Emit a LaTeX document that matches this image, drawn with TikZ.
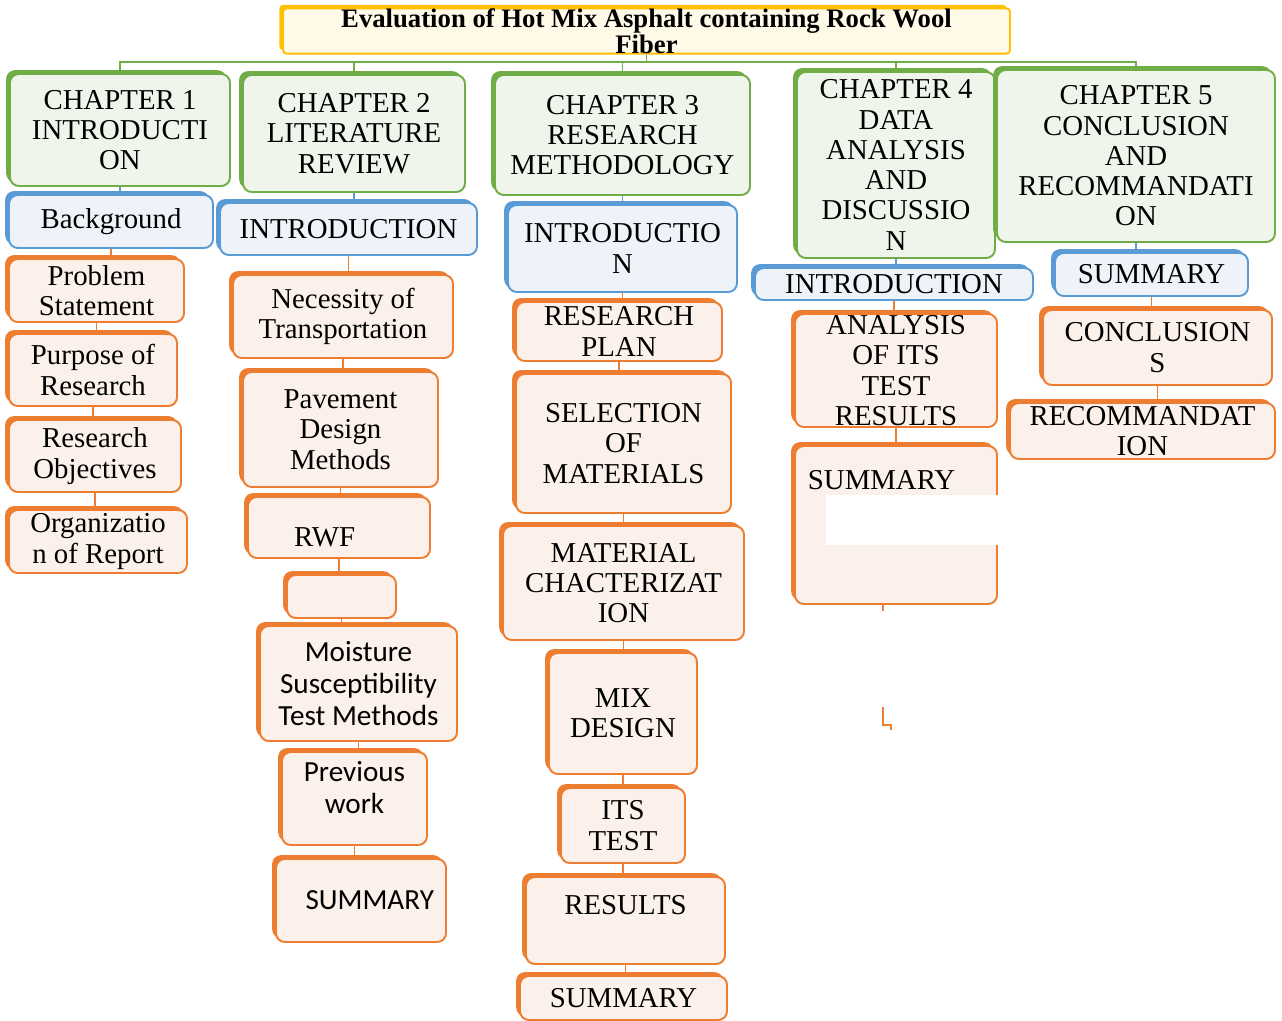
\documentclass[tikz,border=0pt]{standalone}
\usepackage{fontspec}
\setmainfont{Liberation Serif}
\newfontfamily\calfont{Carlito}
\usetikzlibrary{shadows}

\definecolor{chgreen}{HTML}{70AD47}
\definecolor{chgreenf}{HTML}{F0F5EC}
\definecolor{inblue}{HTML}{5B9BD5}
\definecolor{inbluef}{HTML}{EEF3FA}
\definecolor{itorange}{HTML}{ED7D31}
\definecolor{itorangef}{HTML}{FBF0EA}
\definecolor{ttyellow}{HTML}{FFC000}
\definecolor{ttyellowf}{HTML}{FFF9E8}

\tikzset{
  wh/.style 2 args={minimum width=#1*0.02cm, minimum height=#2*0.02cm},
  box/.style={rounded corners=5pt, line width=1.1pt, align=center, inner sep=0pt},
  titlebox/.style={box, rounded corners=2pt, draw=ttyellow, fill=ttyellowf,
    general shadow={fill=ttyellow, shadow xshift=-2pt, shadow yshift=2pt},
    font=\bfseries\fontsize{15.2}{13.6}\selectfont},
  chap/.style={box, draw=chgreen, fill=chgreenf,
    general shadow={fill=chgreen, shadow xshift=-2.2pt, shadow yshift=2.2pt},
    font=\fontsize{16.4}{17.2}\selectfont},
  intro/.style={box, draw=inblue, fill=inbluef,
    general shadow={fill=inblue, shadow xshift=-2.2pt, shadow yshift=2.2pt},
    font=\fontsize{16.4}{17.2}\selectfont},
  item/.style={box, draw=itorange, fill=itorangef,
    general shadow={fill=itorange, shadow xshift=-2.2pt, shadow yshift=2.2pt},
    font=\fontsize{16.4}{17.2}\selectfont},
  itemsf/.style={item, font=\calfont\fontsize{16.6}{18.4}\selectfont},
  gline/.style={draw=chgreen, line width=1.1pt},
  bline/.style={draw=inblue, line width=1pt},
  oline/.style={draw=itorange, line width=1pt}
}

\begin{document}
\begin{tikzpicture}[x=0.02cm, y=-0.02cm]
    \useasboundingbox (0,0) rectangle (1282,1021);

    % title
    \node[titlebox, wh={727}{42}] (title) at (646.5,31)
        {Evaluation of Hot Mix Asphalt containing Rock Wool\\Fiber};

    % chapters
    \node[chap, wh={220}{112}] (ch1) at (120,130) {CHAPTER 1\\INTRODUCTI\\ON};
    \node[chap, wh={222}{117}] (ch2) at (354,133.5) {CHAPTER 2\\LITERATURE\\REVIEW};
    \node[chap, wh={255}{120}] (ch3) at (622.5,135) {CHAPTER 3\\RESEARCH\\METHODOLOGY};
    \node[chap, wh={198}{186}] (ch4) at (896,165) {CHAPTER 4\\DATA\\ANALYSIS\\AND\\DISCUSSIO\\N};
    \node[chap, wh={278}{172}] (ch5) at (1136,156) {CHAPTER 5\\CONCLUSION\\AND\\RECOMMANDATI\\ON};

    \coordinate (bus) at (640,62);
    \foreach \c in {ch1,ch2,ch3,ch4,ch5}
        \draw[gline] (title.south) -- (title.south |- bus) -| (\c.north);

    % first box under each chapter
    \node[intro, wh={204}{53}] (bg) at (111,221.5) {Background};
    \node[intro, wh={257}{52}] (in2) at (348.5,229) {INTRODUCTION};
    \node[intro, wh={229}{87}] (in3) at (622.5,248.5) {INTRODUCTIO\\N};
    \node[intro, wh={278}{32}] (in4) at (894,284) {INTRODUCTION};
    \node[intro, wh={193}{43}] (sm5) at (1151.5,274.5) {SUMMARY};

    % chapter 1
    \node[item, wh={175}{63}] (ps) at (96.5,290.5) {Problem\\Statement};
    \node[item, wh={168}{72}] (pr) at (93,370) {Purpose of\\Research};
    \node[item, wh={172}{72}] (ro) at (95,456) {Research\\Objectives};
    \node[item, wh={178}{63}] (org) at (98,541.5) {Organizatio\\n of Report};

    % chapter 2
    \node[item, wh={220}{83}] (nt) at (343,316.5) {Necessity of\\Transportation};
    \node[item, wh={195}{115}] (pd) at (340.5,429.5) {Pavement\\Design\\Methods};
    \node[item, wh={182}{61}] (rwf) at (339,527.5) {\mbox{}\\[5pt]RWF\hspace*{1em}};
    \node[item, wh={109}{43}] (emp) at (341.5,596.5) {};
    \node[itemsf, wh={197}{115}] (ms) at (358.5,683.5) {Moisture\\Susceptibility\\Test Methods};
    \node[itemsf, wh={145}{93}] (pw) at (354.5,798.5) {Previous\\work\\[-6pt]\mbox{}};
    \node[itemsf, wh={170}{83}] (sm2) at (361,900.5) {\hspace*{0.6em}SUMMARY};

    % chapter 3
    \node[item, wh={206}{59}] (rp) at (619,331.5) {RESEARCH\\PLAN};
    \node[item, wh={215}{139}] (sel) at (623.5,443.5) {SELECTION\\OF\\MATERIALS};
    \node[item, wh={241}{114}] (mc) at (623.5,583) {MATERIAL\\CHACTERIZAT\\ION};
    \node[item, wh={148}{121}] (md) at (623,713.5) {MIX\\DESIGN};
    \node[item, wh={124}{75}] (its) at (623,825.5) {ITS\\TEST};
    \node[item, wh={199}{87}] (res) at (625.5,920.5) {RESULTS\\\mbox{}};
    \node[item, wh={207}{44}] (sm3) at (623.5,998) {SUMMARY};

    % chapter 4
    \node[item, wh={202}{113}] (an) at (896,370.5) {ANALYSIS\\OF ITS\\TEST\\RESULTS};
    \node[item, wh={202}{158}] (sm4) at (896,525) {SUMMARY\hspace*{1em}\\\mbox{}\\\mbox{}\\\mbox{}};
    \fill[white] (826,495) rectangle (998,545);
    \coordinate (stray) at (883,707);

    % chapter 5
    \node[item, wh={229}{75}] (cs) at (1157.5,347.5) {CONCLUSION\\S};
    \node[item, wh={265}{56}] (rc) at (1142.5,431) {RECOMMANDAT\\ION};

    % links inside the columns
    \foreach \a/\b/\s in {ch1/bg/bline, ch2/in2/bline, ch3/in3/bline, ch4/in4/bline, ch5/sm5/bline,
            bg/ps/oline, ps/pr/oline, pr/ro/oline, ro/org/oline,
            in2/nt/oline, nt/pd/oline, pd/rwf/oline, rwf/emp/oline, emp/ms/oline, ms/pw/oline, pw/sm2/oline,
            in3/rp/oline, rp/sel/oline, sel/mc/oline, mc/md/oline, md/its/oline, its/res/oline, res/sm3/oline,
            in4/an/oline, an/sm4/oline,
            sm5/cs/oline, cs/rc/oline}
        \draw[\s] (\a.south) -- (\a.south |- \b.north);
    \draw[oline] (sm4.south -| stray) -- ++(0,6);
    \draw[oline] (stray) -- ++(0,18) -- ++(8,0) -- ++(0,5);
\end{tikzpicture}
\end{document}
